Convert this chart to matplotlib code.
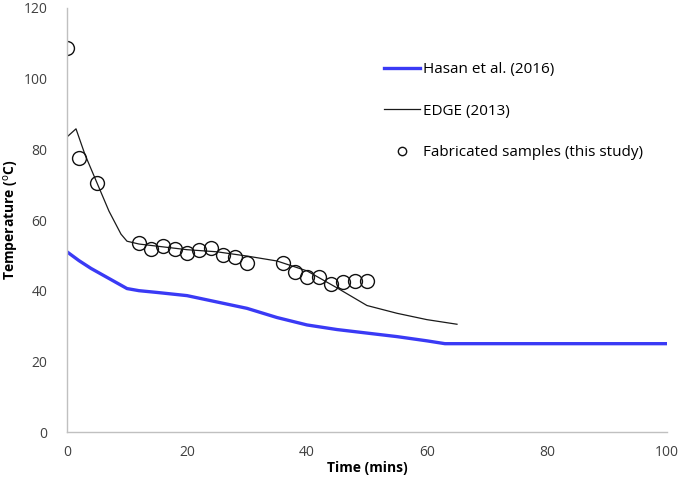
import matplotlib
matplotlib.use("Agg")
import matplotlib.pyplot as plt

plt.rcParams['font.family'] = ['Open Sans', 'DejaVu Sans']

# Hasan et al. (2016)
hasan_t = [0, 2, 4, 6, 8, 10, 12, 15, 20, 25, 30, 35, 40, 45, 50, 55, 60, 63, 70, 80, 90, 100]
hasan_T = [51, 48.5, 46.3, 44.4, 42.5, 40.6, 40.0, 39.5, 38.6, 36.8, 35.0, 32.4, 30.3, 29.0, 28.0, 27.0, 25.8, 25.0, 25.0, 25.0, 25.0, 25.0]

# EDGE (2013)
edge_t = [0, 1.5, 3, 5, 7, 9, 10, 12, 15, 20, 25, 30, 35, 40, 45, 50, 55, 60, 65]
edge_T = [83.5, 85.8, 78.5, 70.5, 62.5, 56, 54, 53.2, 52.6, 51.6, 51.0, 49.8, 48.4, 45.6, 40.8, 35.8, 33.6, 31.8, 30.5]

# Fabricated samples (this study)
fab_t = [0, 2, 5, 12, 14, 16, 18, 20, 22, 24, 26, 28, 30, 36, 38, 40, 42, 44, 46, 48, 50]
fab_T = [108.6, 77.5, 70.4, 53.5, 51.8, 52.6, 51.7, 50.7, 51.4, 52.1, 50.1, 49.4, 47.7, 47.7, 45.2, 43.9, 44.0, 41.8, 42.4, 42.8, 42.7]

fig = plt.figure(figsize=(6.85, 4.84), dpi=100)
ax = fig.add_axes([0.0978, 0.1074, 0.8759, 0.8761])

ax.plot(hasan_t, hasan_T, color='#3a3af5', lw=2.4, label='Hasan et al. (2016)')
ax.plot(edge_t, edge_T, color='#1a1a1a', lw=0.9, label='EDGE (2013)')
ax.plot(fab_t, fab_T, ls='none', marker='o', ms=10, mfc='none', mec='#111111', mew=1.0,
        label='Fabricated samples (this study)')

ax.set_xlim(0, 100)
ax.set_ylim(0, 120)
ax.set_xticks(range(0, 101, 20))
ax.set_yticks(range(0, 121, 20))

for s in ['top', 'right']:
    ax.spines[s].set_visible(False)
for s in ['left', 'bottom']:
    ax.spines[s].set_color('#c0c0c0')
    ax.spines[s].set_linewidth(1.0)

ax.tick_params(axis='both', length=0, labelsize=10, labelcolor='#404040')
ax.tick_params(axis='y', pad=14)
ax.tick_params(axis='x', pad=9)

ax.set_xlabel('Time (mins)', fontsize=10, fontweight='bold', labelpad=1)
ax.set_ylabel(r'Temperature ($^{\mathrm{o}}$C)', fontsize=10, fontweight='bold', labelpad=2)

leg = ax.legend(loc='upper left', bbox_to_anchor=(0.505, 0.905), frameon=False,
                fontsize=11, labelspacing=1.75, handlelength=2.4, handletextpad=0.15,
                markerscale=0.6)

fig.savefig('out.png', dpi=100)
